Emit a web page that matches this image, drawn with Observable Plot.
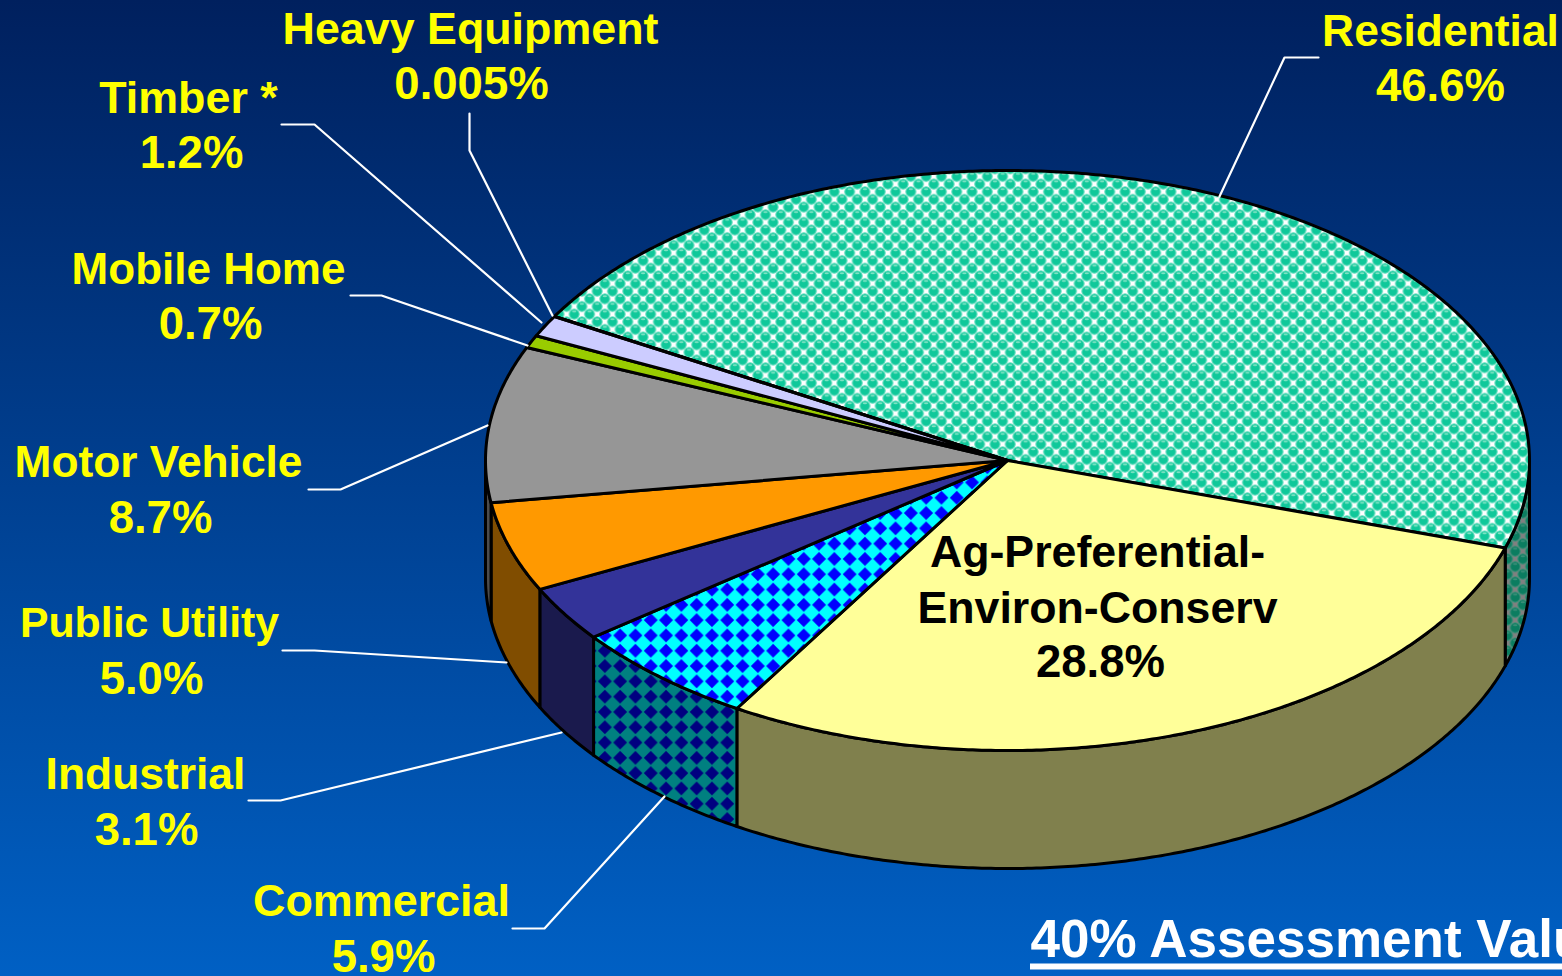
<!DOCTYPE html>
<html>
<head>
<meta charset="utf-8">
<script src="https://cdn.jsdelivr.net/npm/d3@7"></script>
<script src="https://cdn.jsdelivr.net/npm/@observablehq/plot@0.6"></script>
<style>
html,body{margin:0;padding:0;overflow:hidden;width:1562px;height:976px;background:#0060c4}
svg{display:block}
</style>
</head>
<body>
<div id="chart"></div>
<script>
// DATA
const categories = ["Residential","Ag-Preferential-\nEnviron-Conserv","Commercial","Industrial","Public Utility","Motor Vehicle","Mobile Home","Timber *","Heavy Equipment"];
const shares = [46.6,28.8,5.9,3.1,5.0,8.7,0.7,1.2,0.005];
const shareLabels = ["46.6%","28.8%","5.9%","3.1%","5.0%","8.7%","0.7%","1.2%","0.005%"];

// STYLE
const topFills = ["url(#resTop)","#ffff99","url(#comTop)","#333399","#ff9900","#969696","#99cc00","#ccccff","#3366ff"];
const sideFills = ["url(#resSide)","#80804d","url(#comSide)","#1a1a4d","#804d00","#4b4b4b","#4d6600","#666680","#1a3380"];
const labelColors = ["#ffff00","#000000","#ffff00","#ffff00","#ffff00","#ffff00","#ffff00","#ffff00","#ffff00"];
const nameSizes = [44.4,44.7,44.9,44.4,42.8,44.3,44,44.8,44.8];

// LAYOUT (pie geometry and annotation placement)
const cx = 1007, cy = 460, rx = 522, ry = 290, depth = 118, startDeg = -150.2;
const nameX = [1440,1097,381,145,149,158,208,188,470];
const nameY = [26,547,896,769,618,457,264,93,24];
const shareX = [1440,1100,383,146,151,160,210,191,471];
const shareY = [86,662,957,830,679,518,324,153,84];
const leaderX = [[1318,1284,1219],null,[512,544,664],[248,280,561],[282,314,506],[308,340,487],[350,381,527],[281,314,541],[469,469,552]];
const leaderY = [[57,57,196],null,[928,928,796],[800,800,732],[650,650,662],[489,489,425],[295,295,345],[124,124,322],[113,150,315]];

const total = d3.sum(shares);
const pt = (deg, dz = 0) => {
  const a = deg * Math.PI / 180;
  return {x: cx + rx * Math.cos(a), y: cy + ry * Math.sin(a) + dz};
};
const arc = (a0, a1, dz = 0) => {
  const n = Math.max(2, Math.ceil(Math.abs(a1 - a0) / 0.5));
  return d3.range(n + 1).map(i => pt(a0 + (a1 - a0) * i / n, dz));
};
let acc = startDeg;
const slices = shares.map((v, i) => {
  const a0 = acc, a1 = acc + v / total * 360;
  acc = a1;
  return {i, a0, a1};
});
const topPoly = s => { const p = [{x: cx, y: cy}, ...arc(s.a0, s.a1)]; p.push(p[0]); return p; };
const sidePoly = s => {
  const lo = Math.max(s.a0, 0), hi = Math.min(s.a1, 180);
  if (hi <= lo) return null;
  const p = [...arc(lo, hi), ...arc(hi, lo, depth)];
  p.push(p[0]);
  return p;
};

const defs = () => {
  const ns = "http://www.w3.org/2000/svg";
  const d = document.createElementNS(ns, "defs");
  const diamond = (id, bg, fg) => `<pattern id="${id}" width="15.3" height="15.3" patternUnits="userSpaceOnUse">
    <rect width="15.3" height="15.3" fill="${bg}"/>
    <path d="M7.65 0.7 L14.6 7.65 L7.65 14.6 L0.7 7.65Z" fill="${fg}"/>
  </pattern>`;
  const balls = (id, bg, ring, ball, hi) => {
    const b = (x, y) => `<circle cx="${x}" cy="${y}" r="5" fill="${ball}" stroke="${ring}" stroke-width="1"/><ellipse cx="${x}" cy="${y-2.6}" rx="2.2" ry="1" fill="${hi}"/>`;
    return `<pattern id="${id}" width="15.3" height="15.3" patternUnits="userSpaceOnUse">
    <rect width="15.3" height="15.3" fill="${bg}"/>
    ${b(0,0)}${b(15.3,0)}${b(0,15.3)}${b(15.3,15.3)}${b(7.65,7.65)}
  </pattern>`;
  };
  d.innerHTML = `
  <linearGradient id="bg" x1="0" y1="0" x2="0" y2="1"><stop offset="0" stop-color="#00205e"/><stop offset="1" stop-color="#0060c4"/></linearGradient>
  ${diamond("comTop","#00ffff","#0000ff")}
  ${diamond("comSide","#008080","#000080")}
  ${balls("resTop","#ffffff","#66dfc0","#0fc89a","#7fe3c4")}
  ${balls("resSide","#808080","#3a8f78","#0b7d60","#3a8f78")}`;
  return d;
};

const background = Plot.rect([0], {x1: () => 0, x2: () => 1562, y1: () => 0, y2: () => 976, fill: "url(#bg)"});

const sideMarks = slices.map(s => ({s, p: sidePoly(s)})).filter(o => o.p).map(o =>
  Plot.line(o.p, {x: "x", y: "y", fill: sideFills[o.s.i], stroke: "#000", strokeWidth: 3, strokeLinejoin: "round"}));
const topMarks = slices.map(s =>
  Plot.line(topPoly(s), {x: "x", y: "y", fill: topFills[s.i], stroke: "#000", strokeWidth: 3, strokeLinejoin: "round"}));

const leaders = categories.flatMap((c, i) => leaderX[i] ? leaderX[i].map((x, j) => ({c, x, y: leaderY[i][j]})) : []);

const nameLabels = categories.map((c, i) => ({text: c, x: nameX[i], y: nameY[i], color: labelColors[i], size: nameSizes[i]}));
const shareTexts = shareLabels.map((t, i) => ({text: t, x: shareX[i], y: shareY[i], color: labelColors[i]}));

const note = [{text: "40% Assessment Value", x: 1030, y: 940}];

const chart = Plot.plot({
  width: 1562, height: 976, margin: 0,
  x: {domain: [0, 1562], range: [0, 1562], axis: null},
  y: {domain: [0, 976], range: [0, 976], axis: null},
  style: {background: "transparent", overflow: "hidden"},
  marks: [
    defs,
    background,
    ...sideMarks,
    ...topMarks,
    Plot.line(leaders, {x: "x", y: "y", z: "c", stroke: "#fff", strokeWidth: 2.2}),
    ...nameLabels.map(l => Plot.text([l], {x: "x", y: "y", text: "text", fill: l.color, fontFamily: "Liberation Sans", fontWeight: "bold", fontSize: l.size, lineHeight: 1.25, textAnchor: "middle", lineAnchor: "top", dy: -20})),
    Plot.text(shareTexts, {x: "x", y: "y", text: "text", fill: "color", fontFamily: "Liberation Sans", fontWeight: "bold", fontSize: 45.5, textAnchor: "middle"}),
    Plot.text(note, {x: "x", y: "y", text: "text", fill: "#fff", fontFamily: "Liberation Sans", fontWeight: "bold", fontSize: 53, textAnchor: "start"}),
    Plot.ruleY([966], {x1: 1030, x2: 1562, stroke: "#fff", strokeWidth: 6})
  ]
});
document.getElementById("chart").appendChild(chart);
</script>
</body>
</html>
